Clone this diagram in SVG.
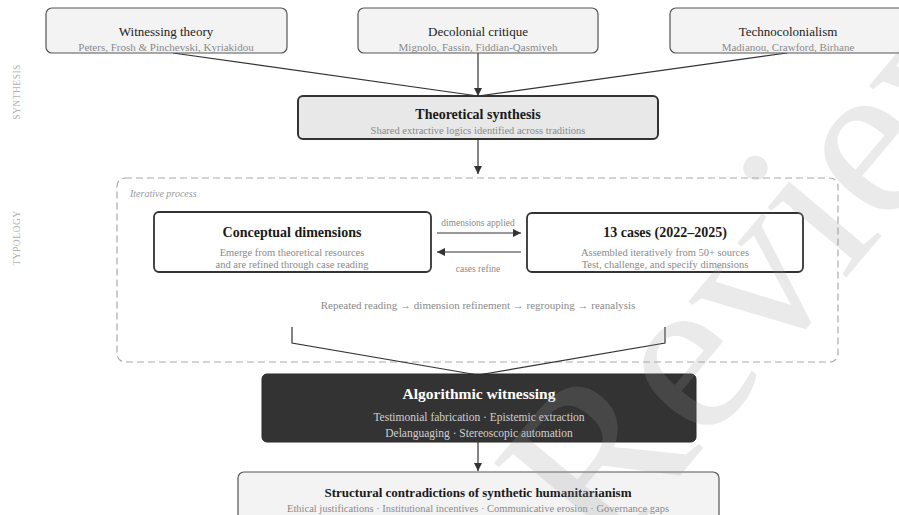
<svg xmlns="http://www.w3.org/2000/svg" width="899" height="515" viewBox="0 0 899 515">
<style>
text{font-family:"Liberation Serif","DejaVu Serif",serif;}
.t{font-size:13px;fill:#222;text-anchor:middle;}
.tb{font-size:14px;font-weight:bold;fill:#1a1a1a;text-anchor:middle;}
.s{font-size:11px;fill:#8a8a8a;text-anchor:middle;}
.lbl{font-size:9.5px;fill:#8a8a8a;text-anchor:middle;}
.side{font-size:9.5px;fill:#b0b0b0;text-anchor:middle;letter-spacing:0.5px;}
.src{fill:#f3f3f3;stroke:#555;stroke-width:1.2;}
.box{fill:#fff;stroke:#333;stroke-width:1.8;}
.conn{fill:none;stroke:#333;stroke-width:1.2;}
</style>
<defs>
<marker id="ah" viewBox="0 0 10 10" refX="10" refY="5" markerWidth="9" markerHeight="8" markerUnits="userSpaceOnUse" orient="auto">
<path d="M0,0 L10,5 L0,10 z" fill="#333"/>
</marker>
</defs>
<rect width="899" height="515" fill="#fff"/>
<g id="side-labels">
<text class="side" transform="translate(20,92) rotate(-90)">SYNTHESIS</text>
<text class="side" transform="translate(20,238) rotate(-90)">TYPOLOGY</text>
</g>
<g id="iterative-process">
<rect x="117" y="178" width="721" height="184" rx="8" fill="none" stroke="#aaa" stroke-width="1.2" stroke-dasharray="7,4"/>
<text x="130" y="197" style="font-size:10px;font-style:italic;fill:#999;">Iterative process</text>
<text x="478" y="309" class="s">Repeated reading → dimension refinement → regrouping → reanalysis</text>
</g>
<g id="connectors">
<line class="conn" x1="173" y1="53" x2="478" y2="96"/>
<line class="conn" x1="787" y1="53" x2="478" y2="96"/>
<line class="conn" x1="478" y1="53" x2="478" y2="96" marker-end="url(#ah)"/>
<line class="conn" x1="478" y1="139" x2="478" y2="174" marker-end="url(#ah)"/>
<line class="conn" x1="437" y1="233" x2="521" y2="233" marker-end="url(#ah)"/>
<line class="conn" x1="521" y1="252" x2="437" y2="252" marker-end="url(#ah)"/>
<text x="478" y="226" class="lbl">dimensions applied</text>
<text x="478" y="272" class="lbl">cases refine</text>
<polyline class="conn" points="292,327 292,343 478,375 665,343 665,327"/>
<line class="conn" x1="478" y1="442" x2="478" y2="471" marker-end="url(#ah)"/>
</g>
<g id="witnessing-theory">
<rect class="src" x="46" y="8" width="241" height="45" rx="6"/>
<text x="166" y="36" class="t">Witnessing theory</text>
<text x="166" y="51" class="s">Peters, Frosh &amp; Pinchevski, Kyriakidou</text>
</g>
<g id="decolonial-critique">
<rect class="src" x="358" y="8" width="240" height="45" rx="6"/>
<text x="478" y="36" class="t">Decolonial critique</text>
<text x="478" y="51" class="s">Mignolo, Fassin, Fiddian-Qasmiyeh</text>
</g>
<g id="technocolonialism">
<rect class="src" x="670" y="8" width="240" height="45" rx="6"/>
<text x="788" y="36" class="t">Technocolonialism</text>
<text x="788" y="51" class="s">Madianou, Crawford, Birhane</text>
</g>
<g id="theoretical-synthesis">
<rect x="298" y="96" width="360" height="43" rx="5" fill="#e8e8e8" stroke="#333" stroke-width="2"/>
<text x="478" y="119" class="tb">Theoretical synthesis</text>
<text x="478" y="134" class="s" style="font-size:10.5px">Shared extractive logics identified across traditions</text>
</g>
<g id="conceptual-dimensions">
<rect class="box" x="154" y="212" width="277" height="60" rx="5"/>
<text x="292" y="237" class="tb">Conceptual dimensions</text>
<text x="292" y="256" class="s" style="font-size:10.5px">Emerge from theoretical resources</text>
<text x="292" y="268" class="s" style="font-size:10.5px">and are refined through case reading</text>
</g>
<g id="cases">
<rect class="box" x="527" y="213" width="276" height="59" rx="5"/>
<text x="665" y="237" class="tb">13 cases (2022–2025)</text>
<text x="665" y="256" class="s" style="font-size:10.5px">Assembled iteratively from 50+ sources</text>
<text x="665" y="268" class="s" style="font-size:10.5px">Test, challenge, and specify dimensions</text>
</g>
<g id="algorithmic-witnessing">
<rect x="262" y="374" width="434" height="68" rx="5" fill="#333" stroke="#2a2a2a" stroke-width="1"/>
<text x="479" y="399" class="tb" style="font-size:15.5px;fill:#fff">Algorithmic witnessing</text>
<text x="479" y="421" class="s" style="font-size:11.5px;fill:#d0d0d0">Testimonial fabrication · Epistemic extraction</text>
<text x="479" y="437" class="s" style="font-size:11.5px;fill:#d0d0d0">Delanguaging · Stereoscopic automation</text>
</g>
<g id="structural-contradictions">
<rect class="src" x="238" y="472" width="481" height="60" rx="6"/>
<text x="478" y="497" class="tb" style="font-size:13px">Structural contradictions of synthetic humanitarianism</text>
<text x="478" y="512" class="s" style="font-size:10.5px">Ethical justifications · Institutional incentives · Communicative erosion · Governance gaps</text>
</g>
<g id="watermark">
<text transform="translate(605,565) rotate(-50)" style="font-size:230px;fill:#999;opacity:0.2;">Review</text>
</g>
</svg>
